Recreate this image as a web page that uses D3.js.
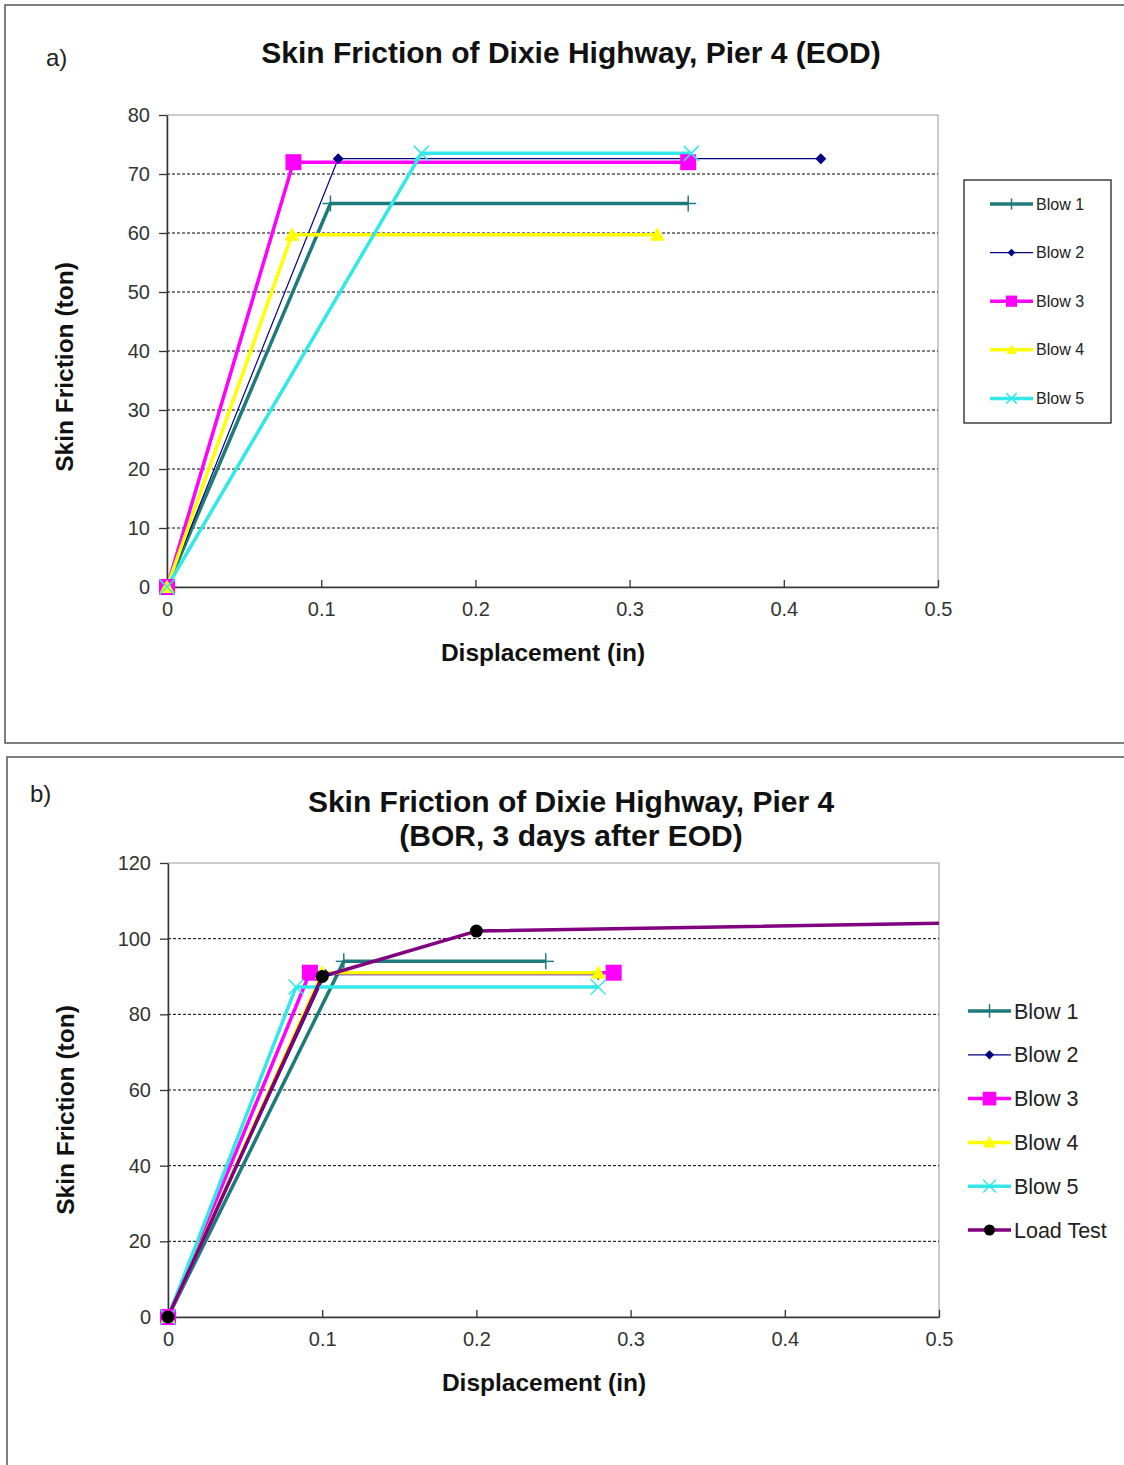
<!DOCTYPE html>
<html><head><meta charset="utf-8">
<script src="https://cdn.jsdelivr.net/npm/d3@7"></script>
<style>body{margin:0;background:#fff;font-family:"Liberation Sans",Arial,sans-serif}</style>
</head><body>
<svg id="c" width="1124" height="1465"></svg>
<script>
// ---- Data: panel a (EOD) ----
const seriesNamesA = ["Blow 1","Blow 2","Blow 3","Blow 4","Blow 5"];
const blow1A = [[0,0],[0.106,65],[0.338,65]];
const blow2A = [[0,0],[0.111,72.6],[0.424,72.6]];
const blow3A = [[0,0],[0.082,72],[0.338,72]];
const blow4A = [[0,0],[0.081,59.7],[0.318,59.7]];
const blow5A = [[0,0],[0.165,73.5],[0.340,73.5]];
const yTicksA = [0,10,20,30,40,50,60,70,80];
// ---- Data: panel b (BOR) ----
const seriesNamesB = ["Blow 1","Blow 2","Blow 3","Blow 4","Blow 5","Load Test"];
const blow1B = [[0,0],[0.114,94],[0.245,94]];
const blow2B = [[0,0],[0.102,90.5],[0.279,90.5]];
const blow3B = [[0,0],[0.092,91],[0.289,91]];
const blow4B = [[0,0],[0.100,91],[0.279,91]];
const blow5B = [[0,0],[0.083,87.2],[0.279,87.2]];
const loadTestB = [[0,0],[0.100,90],[0.200,102],[0.600,104.8]];
const yTicksB = [0,20,40,60,80,100,120];
const xTicks = [0,0.1,0.2,0.3,0.4,0.5];

const styles = {
  "Blow 1":{color:"#1f7b7b",w:3.5,marker:"plus",ms:16},
  "Blow 2":{color:"#000080",w:1.2,marker:"diamond",ms:11},
  "Blow 3":{color:"#ff00ff",w:3.5,marker:"square",ms:16},
  "Blow 4":{color:"#ffff00",w:3.5,marker:"triangle",ms:15},
  "Blow 5":{color:"#33e8e8",w:3.5,marker:"cross",ms:15},
  "Load Test":{color:"#800080",w:3.5,marker:"circle",ms:13}
};

const svg = d3.select("#c");
const FONT = "'Liberation Sans', Arial, sans-serif";

function drawMarker(g, type, x, y, s, color){
  const h = s/2;
  if(type==="plus"){
    g.append("line").attr("x1",x).attr("x2",x).attr("y1",y-h).attr("y2",y+h).attr("stroke",color).attr("stroke-width",1.5);
    g.append("line").attr("x1",x-h).attr("x2",x+h).attr("y1",y).attr("y2",y).attr("stroke",color).attr("stroke-width",1.5);
  } else if(type==="diamond"){
    g.append("path").attr("d",`M${x},${y-h}L${x+h},${y}L${x},${y+h}L${x-h},${y}Z`).attr("fill",color);
  } else if(type==="square"){
    g.append("rect").attr("x",x-h).attr("y",y-h).attr("width",s).attr("height",s).attr("fill",color);
  } else if(type==="triangle"){
    g.append("path").attr("d",`M${x},${y-h}L${x+h},${y+h*0.8}L${x-h},${y+h*0.8}Z`).attr("fill",color);
  } else if(type==="cross"){
    g.append("path").attr("d",`M${x-h},${y-h}L${x+h},${y+h}M${x-h},${y+h}L${x+h},${y-h}`).attr("stroke",color).attr("stroke-width",1.5);
  } else if(type==="circle"){
    g.append("circle").attr("cx",x).attr("cy",y).attr("r",h).attr("fill","#000");
  }
}

function panel(o){
  const root = svg.append("g");
  root.append("rect").attr("x",o.frame[0]).attr("y",o.frame[1]).attr("width",o.frame[2]).attr("height",o.frame[3])
    .attr("fill","#fff").attr("stroke","#555").attr("stroke-width",1.5);
  root.append("text").attr("x",o.tag[0]).attr("y",o.tag[1]).text(o.tagText)
    .attr("font-family",FONT).attr("font-size",24).attr("fill","#222");
  o.title.forEach((t,i)=>{
    root.append("text").attr("x",o.titleX).attr("y",o.titleY+i*34).attr("text-anchor","middle")
      .attr("font-family",FONT).attr("font-weight","bold").attr("font-size",30).attr("fill","#111").text(t);
  });
  const x = d3.scaleLinear().domain([0,0.5]).range([o.L,o.R]);
  const y = d3.scaleLinear().domain([0,o.ymax]).range([o.B,o.T]);
  const plot = root.append("g");
  plot.append("rect").attr("x",o.L).attr("y",o.T).attr("width",o.R-o.L).attr("height",o.B-o.T)
    .attr("fill","none").attr("stroke","#999").attr("stroke-width",1);
  plot.selectAll(".grid").data(o.yTicks.filter(v=>v>0&&v<o.ymax)).join("line")
    .attr("x1",o.L).attr("x2",o.R).attr("y1",d=>y(d)).attr("y2",d=>y(d))
    .attr("stroke","#000").attr("stroke-width",1).attr("stroke-dasharray","3,2");
  const yAx = plot.append("g").attr("transform",`translate(${o.L},0)`)
    .call(d3.axisLeft(y).tickValues(o.yTicks).tickSize(8).tickSizeOuter(0).tickPadding(9).tickFormat(d3.format("d")));
  const xAx = plot.append("g").attr("transform",`translate(0,${o.B})`)
    .call(d3.axisBottom(x).tickValues(xTicks).tickSize(7).tickSizeOuter(0).tickPadding(8).tickFormat(d=>d===0?"0":d3.format(".1f")(d)));
  [yAx,xAx].forEach(a=>{
    a.selectAll("path").attr("stroke","#333").attr("stroke-width",1.5);
    a.selectAll("line").attr("stroke","#333").attr("stroke-width",1.3);
    a.selectAll("text").attr("font-family",FONT).attr("font-size",20).attr("fill","#333");
  });
  xAx.selectAll(".tick line").attr("transform","translate(0,-7)");
  const cid = "clip"+o.tagText.replace(/\W/g,"");
  root.append("clipPath").attr("id",cid).append("rect").attr("x",o.L-10).attr("y",o.T-10).attr("width",o.R-o.L+10).attr("height",o.B-o.T+20);
  const data = root.append("g").attr("clip-path",`url(#${cid})`);
  const line = d3.line().x(d=>x(d[0])).y(d=>y(d[1]));
  o.series.forEach(([name,pts])=>{
    const st = styles[name];
    data.append("path").attr("d",line(pts)).attr("fill","none").attr("stroke",st.color)
      .attr("stroke-width",st.w).attr("stroke-linejoin","round");
  });
  o.series.forEach(([name,pts])=>{
    const st = styles[name];
    const mg = data.append("g");
    pts.forEach(p=>{ if(p[0]<=0.5) drawMarker(mg,st.marker,x(p[0]),y(p[1]),st.ms,st.color); });
  });
  root.append("text").attr("x",o.xtX).attr("y",o.B+74).attr("text-anchor","middle")
    .attr("font-family",FONT).attr("font-weight","bold").attr("font-size",24.5).attr("fill","#111").text("Displacement (in)");
  root.append("text").attr("transform",`translate(${o.ytX},${o.ytY}) rotate(-90)`).attr("text-anchor","middle")
    .attr("font-family",FONT).attr("font-weight","bold").attr("font-size",24.5).attr("fill","#111").text("Skin Friction (ton)");
  const lg = root.append("g");
  if(o.legendBox) lg.append("rect").attr("x",o.legendBox[0]).attr("y",o.legendBox[1]).attr("width",o.legendBox[2]).attr("height",o.legendBox[3])
    .attr("fill","#fff").attr("stroke","#222").attr("stroke-width",1.3);
  o.names.forEach((name,i)=>{
    const st = styles[name];
    const ly = o.leg.y0 + i*o.leg.dy;
    lg.append("line").attr("x1",o.leg.x0).attr("x2",o.leg.x1).attr("y1",ly).attr("y2",ly)
      .attr("stroke",st.color).attr("stroke-width",st.w);
    drawMarker(lg,st.marker,(o.leg.x0+o.leg.x1)/2,ly,st.ms*o.leg.ms,st.color);
    lg.append("text").attr("x",o.leg.x1+3).attr("y",ly).attr("dy","0.35em")
      .attr("font-family",FONT).attr("font-size",o.leg.fs).attr("fill","#222").text(name);
  });
}

panel({
  frame:[5,5,1130,738], tag:[46,66], tagText:"a)",
  title:["Skin Friction of Dixie Highway, Pier 4 (EOD)"], titleX:571, titleY:63,
  L:167,R:938,T:115,B:587, ymax:80, yTicks:yTicksA, ytX:73, ytY:367, xtX:543,
  series:[["Blow 1",blow1A],["Blow 2",blow2A],["Blow 3",blow3A],["Blow 4",blow4A],["Blow 5",blow5A]],
  names:seriesNamesA, legendBox:[964,180,147,243],
  leg:{x0:990,x1:1033,y0:204,dy:48.6,fs:16,ms:0.7}
});
panel({
  frame:[7,757,1130,720], tag:[30,802], tagText:"b)",
  title:["Skin Friction of Dixie Highway, Pier 4","(BOR, 3 days  after EOD)"], titleX:571, titleY:812,
  L:168,R:939,T:863,B:1317, ymax:120, yTicks:yTicksB, ytX:74, ytY:1110, xtX:544,
  series:[["Blow 1",blow1B],["Blow 2",blow2B],["Blow 3",blow3B],["Blow 4",blow4B],["Blow 5",blow5B],["Load Test",loadTestB]],
  names:seriesNamesB, legendBox:null,
  leg:{x0:968,x1:1011,y0:1011,dy:43.8,fs:21.5,ms:0.85}
});
</script>
</body></html>
